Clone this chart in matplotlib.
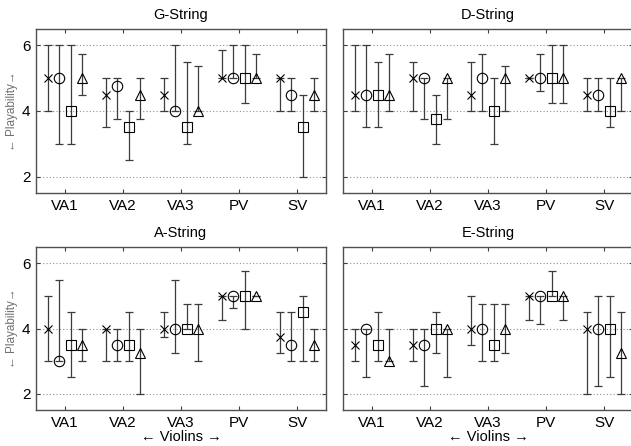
import matplotlib
matplotlib.use('Agg')
import matplotlib.pyplot as plt
import numpy as np

plt.rcParams['font.family'] = ['Liberation Sans', 'DejaVu Sans']

# --- data ---
violins = ['VA1', 'VA2', 'VA3', 'PV', 'SV']
strings = ['G-String', 'D-String', 'A-String', 'E-String']
markers = ['x', 'o', 's', '^']
msizes = [6, 7.5, 6.5, 7.5]

# rows = series (x, o, square, triangle), columns = violins
g_mid = [[5, 4.5, 4.5, 5, 5], [5, 4.75, 4, 5, 4.5], [4, 3.5, 3.5, 5, 3.5], [5, 4.5, 4, 5, 4.5]]
g_lo = [[4, 3.5, 4, 5, 4], [3, 3.75, 4, 5, 4], [3, 2.5, 3, 4.25, 2], [4.5, 3.75, 4, 5, 4]]
g_hi = [[6, 5, 5, 5.875, 5], [6, 5, 6, 6, 5], [6, 4, 5.5, 6, 4.5], [5.75, 5, 5.375, 5.75, 5]]

d_mid = [[4.5, 5, 4.5, 5, 4.5], [4.5, 5, 5, 5, 4.5], [4.5, 3.75, 4, 5, 4], [4.5, 5, 5, 5, 5]]
d_lo = [[4, 4, 4, 5, 4], [3.5, 3.75, 4, 4.625, 4], [3.5, 3, 3, 4.25, 3.5], [4, 3.75, 4, 4.25, 4]]
d_hi = [[6, 5.5, 5.5, 5, 5], [6, 5, 5.75, 5.75, 5], [5.5, 4.5, 5, 6, 5], [5.75, 5, 5.375, 6, 5]]

a_mid = [[4, 4, 4, 5, 3.75], [3, 3.5, 4, 5, 3.5], [3.5, 3.5, 4, 5, 4.5], [3.5, 3.25, 4, 5, 3.5]]
a_lo = [[3, 3, 3.75, 4.25, 3.25], [3, 3, 3.25, 4.625, 3], [2.5, 3, 4, 4, 3], [3, 2, 3, 5, 3]]
a_hi = [[5, 4, 4.5, 5, 4.5], [5.5, 4, 5.5, 5, 4.5], [4.5, 4.5, 4.75, 5.75, 5], [4, 4, 4.75, 5, 4]]

e_mid = [[3.5, 3.5, 4, 5, 4], [4, 3.5, 4, 5, 4], [3.5, 4, 3.5, 5, 4], [3, 4, 4, 5, 3.25]]
e_lo = [[3, 3, 3.5, 4.25, 2], [2.5, 2.25, 3, 4.125, 2.25], [3, 3.25, 3, 5, 2.5], [3, 2.5, 3.25, 4.25, 2]]
e_hi = [[4, 4, 5, 5, 4.5], [4, 4, 4.75, 5, 5], [4.5, 4.5, 4.75, 5.75, 5], [4, 4, 4.75, 5, 4.5]]

all_mid = [g_mid, d_mid, a_mid, e_mid]
all_lo = [g_lo, d_lo, a_lo, e_lo]
all_hi = [g_hi, d_hi, a_hi, e_hi]

offsets = [-0.3, -0.1, 0.1, 0.3]

fig = plt.figure(figsize=(6.31, 4.46), dpi=100)
W, H = 631.0, 446.0
# axes boxes in pixels: left, top, right, bottom
boxes = [(36, 29, 326, 193), (343, 29, 633, 193),
         (36, 247, 326, 410), (343, 247, 633, 410)]

x = np.arange(1, len(violins) + 1)
for k, (l, t, r, b) in enumerate(boxes):
    ax = fig.add_axes([l / W, 1 - b / H, (r - l) / W, (b - t) / H])
    mid = np.array(all_mid[k], dtype=float)
    lo = np.array(all_lo[k], dtype=float)
    hi = np.array(all_hi[k], dtype=float)
    for s in range(4):
        yerr = np.vstack([mid[s] - lo[s], hi[s] - mid[s]])
        ax.errorbar(x + offsets[s], mid[s], yerr=yerr, fmt='none',
                    ecolor='#3c3c3c', elinewidth=0.9, capsize=3, capthick=0.9)
        ax.plot(x + offsets[s], mid[s], linestyle='none', marker=markers[s],
                markersize=msizes[s], markerfacecolor='none',
                markeredgecolor='black', markeredgewidth=0.8, zorder=3)

    ax.set_xlim(0.5, 5.5)
    ax.set_ylim(1.5, 6.5)
    ax.set_xticks(x)
    ax.set_xticklabels(violins)
    ax.set_yticks([2, 4, 6])
    ax.tick_params(axis='both', direction='in', length=3, top=True, right=True,
                   color='#404040', labelsize=11, pad=4)
    if k % 2 == 1:
        ax.set_yticklabels([])
    for sp in ax.spines.values():
        sp.set_color('#505050')
        sp.set_linewidth(1.0)
    ax.grid(axis='y', linestyle=(0, (1, 2)), color='#909090', linewidth=0.8)
    ax.set_axisbelow(True)
    ax.set_title(strings[k], fontsize=10.5, pad=7)
    if k % 2 == 0:
        ax.set_ylabel('\u2190 Playability\u2192', fontsize=8.5, color='#707070', labelpad=3)
    if k >= 2:
        ax.set_xlabel('\u2190 Violins \u2192', fontsize=10.5, labelpad=0)

fig.savefig('out.png', dpi=100)
